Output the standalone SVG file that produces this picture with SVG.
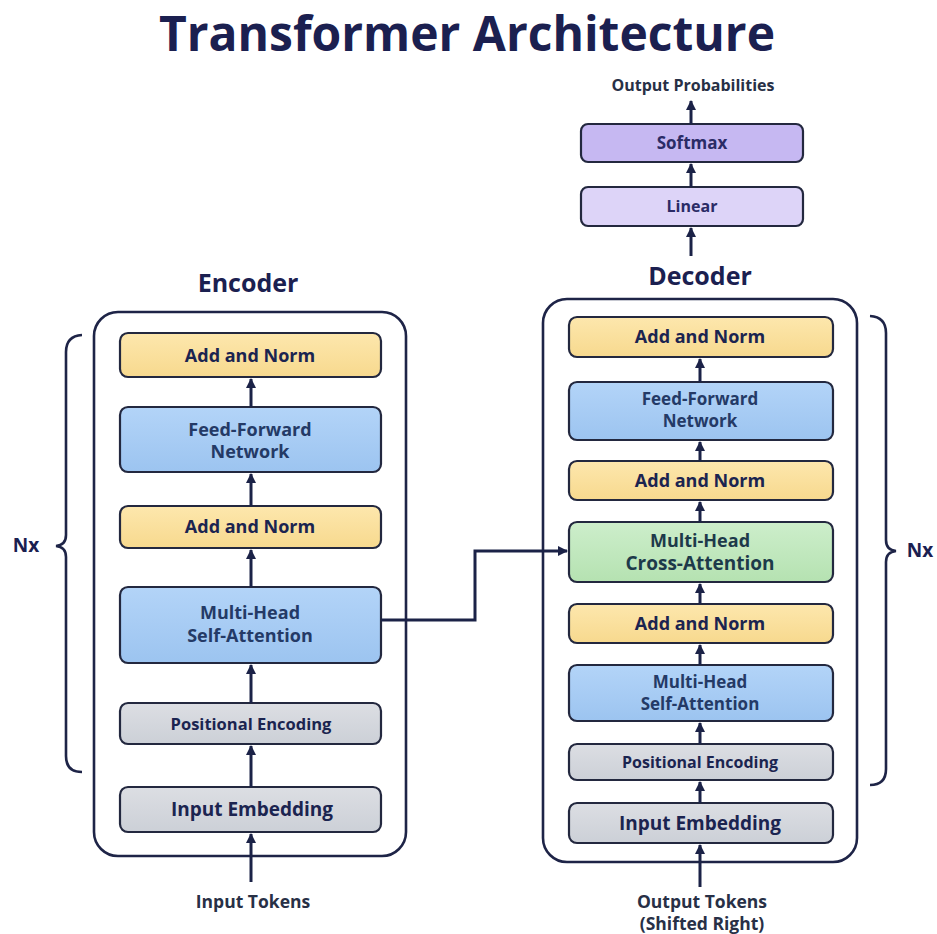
<svg xmlns="http://www.w3.org/2000/svg" width="937" height="934" viewBox="0 0 937 934">
<defs>
<marker id="ah" viewBox="0 0 10 10" refX="9" refY="5" markerWidth="3.4" markerHeight="3.4" orient="auto-start-reverse">
<path d="M0,0 L10,5 L0,10 z" fill="#1b2247"/>
</marker>
<linearGradient id="gBlue" x1="0" y1="0" x2="0" y2="1"><stop offset="0" stop-color="#b3d4f8"/><stop offset="1" stop-color="#9cc4f0"/></linearGradient>
<linearGradient id="gYel" x1="0" y1="0" x2="0" y2="1"><stop offset="0" stop-color="#fde7ad"/><stop offset="1" stop-color="#f7d98e"/></linearGradient>
<linearGradient id="gGreen" x1="0" y1="0" x2="0" y2="1"><stop offset="0" stop-color="#cdeecb"/><stop offset="1" stop-color="#b5e2b1"/></linearGradient>
<linearGradient id="gGray" x1="0" y1="0" x2="0" y2="1"><stop offset="0" stop-color="#dcdee3"/><stop offset="1" stop-color="#ccd0d7"/></linearGradient>
</defs>
<style>
text{font-family:"Open Sans","Noto Sans","Liberation Sans",sans-serif;font-weight:bold;text-anchor:middle;fill:#1b2450}
.title{font-size:48px;fill:#1b2050}
.hdr{font-size:25px;fill:#1b2050}
.lbl{font-size:17.5px;fill:#283046}
.n{font-size:18px}
.ns{font-size:16.5px}
.box{stroke:#23283f;stroke-width:2.2}
.yel{fill:url(#gYel)}
.blue{fill:url(#gBlue)}
.green{fill:url(#gGreen)}
.gray{fill:url(#gGray)}
.soft{fill:#c6b8f2}
.lin{fill:#ddd4f8}
.cont{fill:#ffffff;stroke:#1e2447;stroke-width:2.6}
.brace{fill:none;stroke:#1e2447;stroke-width:2.6}
.conn{fill:none;stroke:#1b2247;stroke-width:3;marker-end:url(#ah)}
.nx{font-size:19px;fill:#1b2050}
.bt{fill:#243a66}
</style>
<rect width="937" height="934" fill="#ffffff"/>
<text class="title" x="467" y="51">Transformer Architecture</text>

<g id="encoder-container">
<rect class="cont" x="94" y="312" width="312" height="544" rx="24"/>
<text class="hdr" x="248" y="292">Encoder</text>
</g>
<g id="decoder-container">
<rect class="cont" x="543" y="299" width="314" height="563" rx="24"/>
<text class="hdr" x="700" y="285">Decoder</text>
</g>

<g id="enc-brace">
<path class="brace" d="M82,335 Q66,336 66,352 L66,535 Q66,545 56,546 Q66,547 66,557 L66,756 Q66,772 82,772"/>
<text class="nx" x="26" y="552">Nx</text>
</g>
<g id="dec-brace">
<path class="brace" d="M870,316 Q886,317 886,333 L886,540 Q886,550 896,551 Q886,552 886,562 L886,769 Q886,785 870,785"/>
<text class="nx" x="920" y="557">Nx</text>
</g>

<g id="enc-addnorm2"><rect class="box yel" x="120" y="333" width="261" height="44" rx="8"/><text class="n" x="250" y="362">Add and Norm</text></g>
<g id="enc-ffn"><rect class="box blue" x="120" y="407" width="261" height="65" rx="8"/><text class="n bt" x="250" y="436">Feed-Forward</text><text class="n bt" x="250" y="458">Network</text></g>
<g id="enc-addnorm1"><rect class="box yel" x="120" y="506" width="261" height="42" rx="8"/><text class="n" x="250" y="533">Add and Norm</text></g>
<g id="enc-mhsa"><rect class="box blue" x="120" y="587" width="261" height="76" rx="8"/><text class="n bt" x="250" y="619">Multi-Head</text><text class="n bt" x="250" y="642">Self-Attention</text></g>
<g id="enc-pos"><rect class="box gray" x="120" y="703" width="261" height="41" rx="8"/><text class="ns" x="251" y="730">Positional Encoding</text></g>
<g id="enc-emb"><rect class="box gray" x="120" y="787" width="261" height="45" rx="8"/><text class="n" x="252" y="816" style="font-size:19px">Input Embedding</text></g>
<g id="input-tokens"><text class="lbl" x="253" y="908">Input Tokens</text></g>

<g id="softmax"><rect class="box soft" x="581" y="124" width="222" height="38" rx="7"/><text class="n" x="692" y="149" style="fill:#2a2b66;font-size:17px">Softmax</text></g>
<g id="linear"><rect class="box lin" x="581" y="187" width="222" height="39" rx="7"/><text class="n" x="692" y="212" style="fill:#2a2b66;font-size:16px">Linear</text></g>
<g id="output-probs"><text class="lbl" x="693" y="91" style="font-size:16px">Output Probabilities</text></g>

<g id="dec-addnorm3"><rect class="box yel" x="569" y="317" width="264" height="40" rx="8"/><text class="n" x="700" y="343">Add and Norm</text></g>
<g id="dec-ffn"><rect class="box blue" x="569" y="382" width="264" height="58" rx="8"/><text class="n bt" x="700" y="405" style="font-size:17px">Feed-Forward</text><text class="n bt" x="700" y="427" style="font-size:17px">Network</text></g>
<g id="dec-addnorm2"><rect class="box yel" x="569" y="461" width="264" height="39" rx="8"/><text class="n" x="700" y="487">Add and Norm</text></g>
<g id="dec-cross"><rect class="box green" x="569" y="522" width="264" height="60" rx="8"/><text class="n" x="700" y="547" style="fill:#1d3a4a">Multi-Head</text><text class="n" x="700" y="570" style="fill:#1d3a4a;font-size:19px">Cross-Attention</text></g>
<g id="dec-addnorm1"><rect class="box yel" x="569" y="604" width="264" height="39" rx="8"/><text class="n" x="700" y="630">Add and Norm</text></g>
<g id="dec-mhsa"><rect class="box blue" x="569" y="665" width="264" height="56" rx="8"/><text class="n bt" x="700" y="688" style="font-size:17px">Multi-Head</text><text class="n bt" x="700" y="710" style="font-size:17px">Self-Attention</text></g>
<g id="dec-pos"><rect class="box gray" x="569" y="744" width="264" height="36" rx="8"/><text class="ns" x="700" y="768" style="font-size:16px">Positional Encoding</text></g>
<g id="dec-emb"><rect class="box gray" x="569" y="803" width="264" height="40" rx="8"/><text class="n" x="700" y="830" style="font-size:19px">Input Embedding</text></g>
<g id="output-tokens"><text class="lbl" x="702" y="908">Output Tokens</text><text class="lbl" x="702" y="930">(Shifted Right)</text></g>

<g id="connectors">
<path class="conn" d="M251,882 L251,834"/>
<path class="conn" d="M251,787 L251,746"/>
<path class="conn" d="M251,703 L251,665"/>
<path class="conn" d="M251,587 L251,550"/>
<path class="conn" d="M251,506 L251,474"/>
<path class="conn" d="M251,407 L251,379"/>
<path class="conn" d="M381,620 L475,620 L475,551 L567,551"/>
<path class="conn" d="M700,887 L700,845"/>
<path class="conn" d="M700,803 L700,782"/>
<path class="conn" d="M700,744 L700,723"/>
<path class="conn" d="M700,665 L700,645"/>
<path class="conn" d="M700,604 L700,584"/>
<path class="conn" d="M700,522 L700,502"/>
<path class="conn" d="M700,461 L700,442"/>
<path class="conn" d="M700,382 L700,359"/>
<path class="conn" d="M691,256 L691,228"/>
<path class="conn" d="M691,187 L691,164"/>
<path class="conn" d="M691,124 L691,101"/>
</g>
</svg>
